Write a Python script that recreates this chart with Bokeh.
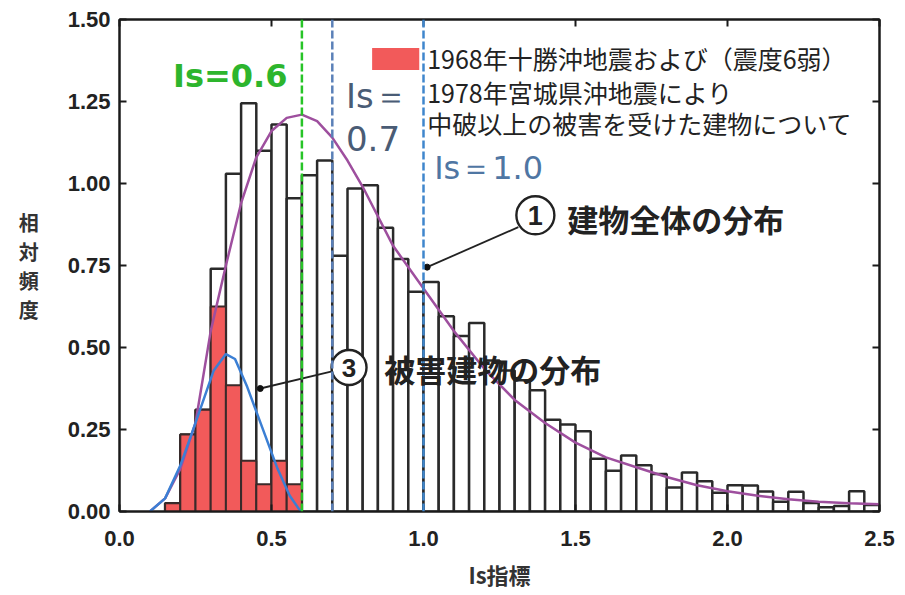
from bokeh.plotting import figure
from bokeh.models import Span, Label, BoxAnnotation, LinearAxis, FixedTicker, Range1d, NumeralTickFormatter
from bokeh.embed import file_html
from bokeh.resources import INLINE

# ---------------- data ----------------
x_ticks = [0.0, 0.5, 1.0, 1.5, 2.0, 2.5]
y_ticks = [0.0, 0.25, 0.5, 0.75, 1.0, 1.25, 1.5]

bin_start = [0.15, 0.20, 0.25, 0.30, 0.35, 0.40, 0.45, 0.50, 0.55, 0.60,
             0.65, 0.70, 0.75, 0.80, 0.85, 0.90, 0.95, 1.00, 1.05, 1.10,
             1.15, 1.20, 1.25, 1.30, 1.35, 1.40, 1.45, 1.50, 1.55, 1.60,
             1.65, 1.70, 1.75, 1.80, 1.85, 1.90, 1.95, 2.00, 2.05, 2.10,
             2.15, 2.20, 2.25, 2.30, 2.35, 2.40, 2.45]
all_freq = [0.025, 0.235, 0.31, 0.74, 1.03, 1.245, 1.10, 1.18, 0.955, 1.025,
            1.07, 0.78, 0.985, 0.995, 0.865, 0.77, 0.67, 0.70, 0.595, 0.535,
            0.575, 0.46, 0.43, 0.40, 0.37, 0.28, 0.265, 0.245, 0.161, 0.124,
            0.171, 0.141, 0.114, 0.073, 0.119, 0.092, 0.057, 0.08, 0.079, 0.061,
            0.03, 0.06, 0.026, 0.013, 0.017, 0.062, 0.02]

dmg_start = [0.15, 0.20, 0.25, 0.30, 0.35, 0.40, 0.45, 0.50, 0.55]
dmg_freq = [0.025, 0.235, 0.31, 0.625, 0.385, 0.155, 0.083, 0.155, 0.083]

total_x = [0.10, 0.15, 0.20, 0.25, 0.30, 0.35, 0.40, 0.45, 0.50, 0.55, 0.60,
           0.65, 0.70, 0.75, 0.80, 0.90, 1.00, 1.10, 1.20, 1.30, 1.40, 1.50,
           1.60, 1.70, 1.80, 1.90, 2.00, 2.10, 2.20, 2.30, 2.40, 2.50]
total_y = [0.00, 0.04, 0.13, 0.27, 0.55, 0.75, 0.94, 1.08, 1.16, 1.20, 1.21,
           1.19, 1.14, 1.07, 0.99, 0.81, 0.68, 0.55, 0.435, 0.34, 0.27, 0.21,
           0.165, 0.135, 0.105, 0.08, 0.062, 0.048, 0.037, 0.03, 0.025, 0.022]

dmg_x = [0.10, 0.15, 0.20, 0.25, 0.28, 0.31, 0.35, 0.38, 0.42, 0.47, 0.52, 0.56, 0.59, 0.60]
dmg_y = [0.00, 0.04, 0.14, 0.27, 0.35, 0.43, 0.48, 0.465, 0.38, 0.255, 0.13, 0.048, 0.008, 0.0]

thresholds = [0.6, 0.7, 1.0]
threshold_colors = ["#27c427", "#5b80b8", "#3f86cc"]

legend_lines = ["1968年十勝沖地震および（震度6弱）",
                "1978年宮城県沖地震により",
                "中破以上の被害を受けた建物について"]
ylabel_chars = ["相", "対", "頻", "度"]

JP = "Noto Sans CJK JP"

# ---------------- figure ----------------
p = figure(frame_width=760, frame_height=492,
           x_range=Range1d(0, 2.5), y_range=Range1d(0, 1.5),
           output_backend="svg", toolbar_location=None,
           min_border_left=119, min_border_right=18,
           min_border_top=19, min_border_bottom=76)
p.background_fill_color = "white"
p.border_fill_color = "white"
p.outline_line_color = "#1a1a1a"
p.outline_line_width = 2
p.xgrid.visible = False
p.ygrid.visible = False

p.xaxis.ticker = FixedTicker(ticks=x_ticks)
p.yaxis.ticker = FixedTicker(ticks=y_ticks)
p.xaxis.formatter = NumeralTickFormatter(format="0.0")
p.yaxis.formatter = NumeralTickFormatter(format="0.00")

for ax in [p.xaxis[0], p.yaxis[0]]:
    ax.major_tick_in = 7
    ax.major_tick_out = 0
    ax.minor_tick_in = 0
    ax.minor_tick_out = 0
    ax.major_tick_line_width = 2
    ax.major_tick_line_color = "#1a1a1a"
    ax.axis_line_width = 2
    ax.axis_line_color = "#1a1a1a"
    ax.major_label_text_font = "Liberation Sans"
    ax.major_label_text_font_style = "bold"
    ax.major_label_text_font_size = "22px"
    ax.major_label_text_color = "#222222"
p.xaxis.major_label_standoff = 19
p.yaxis.major_label_standoff = 9

p.xaxis.axis_label = "Is指標"
p.xaxis.axis_label_text_font = JP
p.xaxis.axis_label_text_font_style = "bold"
p.xaxis.axis_label_text_font_size = "22px"
p.xaxis.axis_label_text_color = "#333333"
p.xaxis.axis_label_standoff = 9

p.yaxis.axis_label = "\n".join(ylabel_chars)
p.yaxis.axis_label_orientation = "horizontal"
p.yaxis.axis_label_text_font = JP
p.yaxis.axis_label_text_font_style = "bold"
p.yaxis.axis_label_text_font_size = "20px"
p.yaxis.axis_label_text_line_height = 1.0
p.yaxis.axis_label_text_color = "#333333"
p.yaxis.axis_label_standoff = 26

for ax_ticks, place in [(x_ticks, "above"), (y_ticks, "right")]:
    extra = LinearAxis(ticker=FixedTicker(ticks=ax_ticks), major_label_text_font_size="1px",
                       major_label_text_color=None,
                       major_tick_in=7, major_tick_out=0, minor_tick_in=0, minor_tick_out=0,
                       major_tick_line_width=2, major_tick_line_color="#1a1a1a",
                       axis_line_width=2, axis_line_color="#1a1a1a", major_label_standoff=0)
    p.add_layout(extra, place)

# ---------------- bars ----------------
bw = 0.05
p.vbar(x=[b + bw / 2 for b in bin_start], width=bw, top=all_freq, bottom=0,
       fill_color="white", line_color="#2a2a2a", line_width=2.5)
p.vbar(x=[b + bw / 2 for b in dmg_start], width=bw, top=dmg_freq, bottom=0,
       fill_color="#f25a5a", line_color="#3a2a2a", line_width=2)

# ---------------- curves ----------------
p.line(total_x, total_y, line_color="#9e4f9e", line_width=2.5)
p.line(dmg_x, dmg_y, line_color="#3b7fd4", line_width=2.5)

for loc, col in zip(thresholds, threshold_colors):
    p.add_layout(Span(location=loc, dimension="height", line_color=col,
                      line_dash="8 3", line_width=2.5))

# ---------------- annotations ----------------
p.add_layout(Label(x=0.176, y=1.327, text="Is=0.6", text_font="DejaVu Sans",
                   text_font_style="bold", text_font_size="32px", text_color="#2db52d",
                   text_baseline="middle", text_align="left"))
p.add_layout(Label(x=0.745, y=1.266, text="Is＝", text_font="DejaVu Sans",
                   text_font_size="34px", text_color="#4a5c75",
                   text_baseline="middle", text_align="left"))
p.add_layout(Label(x=0.745, y=1.138, text="0.7", text_font="DejaVu Sans",
                   text_font_size="34px", text_color="#4a5c75",
                   text_baseline="middle", text_align="left"))
p.add_layout(Label(x=1.035, y=1.047, text="Is＝1.0", text_font="DejaVu Sans",
                   text_font_size="32px", text_color="#4f76a3",
                   text_baseline="middle", text_align="left"))

# legend box + text
p.add_layout(BoxAnnotation(left=0.831, right=0.986, top=1.413, bottom=1.346,
                           fill_color="#f25a5a", fill_alpha=1.0, line_color=None))
for txt, yy in zip(legend_lines, [1.382, 1.279, 1.184]):
    p.add_layout(Label(x=1.012, y=yy, text=txt, text_font=JP, text_font_size="25px",
                       text_color="#222222", text_baseline="middle", text_align="left"))

# leader lines and dots
p.segment(x0=[1.312, 0.699], y0=[0.867, 0.427], x1=[1.012, 0.463], y1=[0.745, 0.375],
          line_color="#222222", line_width=1.8)
p.scatter(x=[1.012, 0.463], y=[0.745, 0.375], size=6, marker="circle",
          fill_color="#111111", line_color="#111111")

# circled numbers
p.scatter(x=[1.368, 0.755], y=[0.903, 0.439], size=[38, 35], marker="circle",
          fill_color="white", line_color="#222222", line_width=2.4)
p.add_layout(Label(x=1.368, y=0.903, text="1", text_font="Liberation Sans",
                   text_font_style="bold", text_font_size="27px", text_color="#222222",
                   text_baseline="middle", text_align="center"))
p.add_layout(Label(x=0.755, y=0.439, text="3", text_font="Liberation Sans",
                   text_font_style="bold", text_font_size="26px", text_color="#222222",
                   text_baseline="middle", text_align="center"))
p.add_layout(Label(x=1.473, y=0.894, text="建物全体の分布", text_font=JP,
                   text_font_style="bold", text_font_size="31px", text_color="#222222",
                   text_baseline="middle", text_align="left"))
p.add_layout(Label(x=0.871, y=0.436, text="被害建物の分布", text_font=JP,
                   text_font_style="bold", text_font_size="31px", text_color="#222222",
                   text_baseline="middle", text_align="left"))

open("out.html", "w").write(file_html(p, INLINE))
